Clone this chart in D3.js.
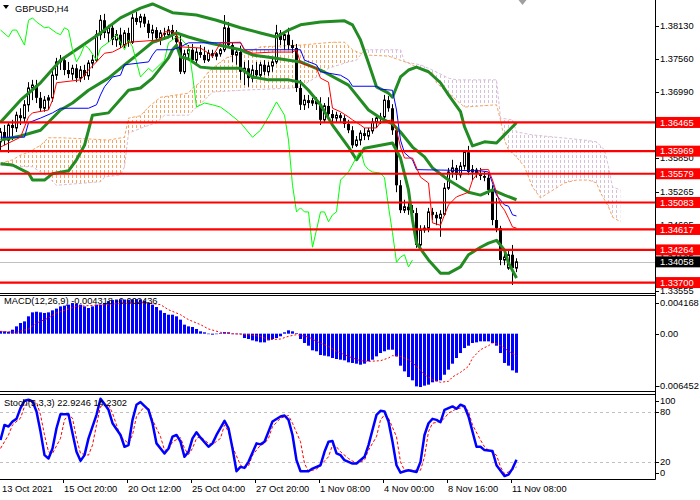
<!DOCTYPE html>
<html>
<head>
<meta charset="utf-8">
<script src="https://cdn.jsdelivr.net/npm/d3@7"></script>
<style>
  body { margin: 0; background: #fff; }
  svg { display: block; font-family: "Liberation Sans", Arial, sans-serif; }
</style>
</head>
<body>
<svg id="chart" width="700" height="500"></svg>
<script>
// GBPUSD H4 - bougies [open, high, low, close]
const candles = [
  // 0
  [1.3613,1.3637,1.3599,1.3630],[1.3630,1.3642,1.3607,1.3616],[1.3616,1.3647,1.3594,1.3642],[1.3642,1.3651,1.3616,1.3637],[1.3637,1.3665,1.3630,1.3659],
  [1.3659,1.3671,1.3642,1.3654],[1.3654,1.3685,1.3647,1.3677],[1.3677,1.3716,1.3665,1.3706],[1.3706,1.3720,1.3685,1.3711],[1.3711,1.3720,1.3680,1.3689],
  // 10
  [1.3689,1.3699,1.3665,1.3671],[1.3671,1.3692,1.3665,1.3685],[1.3685,1.3694,1.3668,1.3689],[1.3689,1.3737,1.3682,1.3728],[1.3728,1.3758,1.3720,1.3751],
  [1.3751,1.3763,1.3737,1.3754],[1.3754,1.3758,1.3728,1.3737],[1.3737,1.3751,1.3723,1.3730],[1.3730,1.3746,1.3720,1.3740],[1.3740,1.3747,1.3716,1.3723],
  // 20
  [1.3723,1.3744,1.3716,1.3737],[1.3737,1.3746,1.3720,1.3727],[1.3727,1.3754,1.3720,1.3749],[1.3749,1.3763,1.3740,1.3754],[1.3754,1.3806,1.3751,1.3798],
  [1.3798,1.3832,1.3789,1.3823],[1.3823,1.3834,1.3792,1.3801],[1.3801,1.3815,1.3785,1.3810],[1.3810,1.3817,1.3780,1.3789],[1.3789,1.3806,1.3777,1.3798],
  // 30
  [1.3798,1.3810,1.3775,1.3780],[1.3780,1.3806,1.3775,1.3801],[1.3801,1.3810,1.3777,1.3785],[1.3785,1.3834,1.3782,1.3827],[1.3827,1.3837,1.3815,1.3820],
  [1.3820,1.3834,1.3810,1.3829],[1.3829,1.3834,1.3811,1.3817],[1.3817,1.3823,1.3792,1.3801],[1.3801,1.3815,1.3789,1.3806],[1.3806,1.3811,1.3785,1.3792],
  // 40
  [1.3792,1.3806,1.3780,1.3801],[1.3801,1.3810,1.3789,1.3798],[1.3798,1.3813,1.3792,1.3806],[1.3806,1.3815,1.3789,1.3796],[1.3796,1.3806,1.3780,1.3785],
  [1.3785,1.3796,1.3730,1.3734],[1.3734,1.3772,1.3730,1.3765],[1.3765,1.3780,1.3754,1.3772],[1.3772,1.3782,1.3749,1.3754],[1.3754,1.3775,1.3749,1.3768],
  // 50
  [1.3768,1.3780,1.3758,1.3763],[1.3763,1.3777,1.3749,1.3754],[1.3754,1.3772,1.3751,1.3766],[1.3766,1.3772,1.3758,1.3761],[1.3761,1.3768,1.3754,1.3765],
  [1.3765,1.3775,1.3760,1.3772],[1.3772,1.3832,1.3768,1.3810],[1.3810,1.3820,1.3775,1.3780],[1.3780,1.3785,1.3751,1.3763],[1.3763,1.3775,1.3746,1.3768],
  // 60
  [1.3768,1.3779,1.3720,1.3734],[1.3734,1.3751,1.3711,1.3740],[1.3740,1.3754,1.3708,1.3723],[1.3723,1.3746,1.3716,1.3737],[1.3737,1.3751,1.3723,1.3728],
  [1.3728,1.3751,1.3725,1.3746],[1.3746,1.3754,1.3728,1.3734],[1.3734,1.3751,1.3727,1.3744],[1.3744,1.3758,1.3734,1.3751],[1.3751,1.3815,1.3747,1.3801],
  // 70
  [1.3801,1.3806,1.3780,1.3789],[1.3789,1.3803,1.3772,1.3798],[1.3798,1.3810,1.3772,1.3780],[1.3780,1.3789,1.3766,1.3775],[1.3775,1.3782,1.3699,1.3706],
  [1.3706,1.3720,1.3668,1.3677],[1.3677,1.3694,1.3668,1.3685],[1.3685,1.3694,1.3671,1.3680],[1.3680,1.3689,1.3675,1.3684],[1.3684,1.3690,1.3668,1.3678],
  // 80
  [1.3678,1.3690,1.3642,1.3651],[1.3651,1.3680,1.3647,1.3675],[1.3675,1.3690,1.3654,1.3661],[1.3661,1.3668,1.3647,1.3654],[1.3654,1.3665,1.3647,1.3659],
  [1.3659,1.3663,1.3647,1.3654],[1.3654,1.3659,1.3637,1.3644],[1.3644,1.3651,1.3628,1.3633],[1.3633,1.3640,1.3602,1.3607],[1.3607,1.3623,1.3604,1.3616],
  // 90
  [1.3616,1.3633,1.3607,1.3628],[1.3628,1.3637,1.3616,1.3623],[1.3623,1.3637,1.3616,1.3632],[1.3632,1.3654,1.3627,1.3647],[1.3647,1.3659,1.3637,1.3654],
  [1.3654,1.3663,1.3644,1.3656],[1.3656,1.3694,1.3651,1.3685],[1.3685,1.3692,1.3665,1.3671],[1.3671,1.3678,1.3625,1.3633],[1.3633,1.3639,1.3526,1.3538],
  // 100
  [1.3538,1.3547,1.3490,1.3495],[1.3495,1.3513,1.3490,1.3501],[1.3501,1.3509,1.3487,1.3495],[1.3495,1.3504,1.3481,1.3490],[1.3490,1.3499,1.3430,1.3435],
  [1.3435,1.3469,1.3430,1.3461],[1.3461,1.3469,1.3456,1.3464],[1.3464,1.3499,1.3457,1.3492],[1.3492,1.3499,1.3478,1.3487],[1.3487,1.3492,1.3469,1.3481],
  // 110
  [1.3481,1.3495,1.3449,1.3488],[1.3488,1.3542,1.3485,1.3533],[1.3533,1.3568,1.3530,1.3561],[1.3561,1.3582,1.3551,1.3568],[1.3568,1.3573,1.3547,1.3556],
  [1.3556,1.3578,1.3551,1.3571],[1.3571,1.3599,1.3565,1.3595],[1.3595,1.3606,1.3556,1.3561],[1.3561,1.3573,1.3547,1.3565],[1.3565,1.3568,1.3551,1.3559],
  // 120
  [1.3559,1.3568,1.3547,1.3554],[1.3554,1.3561,1.3545,1.3551],[1.3551,1.3558,1.3521,1.3530],[1.3530,1.3538,1.3469,1.3478],[1.3478,1.3516,1.3457,1.3464],
  [1.3464,1.3468,1.3400,1.3409],[1.3409,1.3421,1.3400,1.3414],[1.3395,1.3426,1.3392,1.3418],[1.3418,1.3435,1.3366,1.3395],[1.3395,1.3412,1.3388,1.34058]
];

// Bandes de Bollinger [barre, prix]
const bbUpper = [[0,1.3647],[5,1.3685],[10,1.3715],[15,1.3754],[20,1.3777],[25,1.3801],[30,1.3827],[35,1.3844],[38,1.3851],[43,1.3836],[49,1.3832],[54,1.3823],[60,1.3810],[65,1.3801],[69,1.3794],[72,1.3806],[75,1.3815],[80,1.3820],[86,1.3822],[88,1.3815],[90,1.3789],[92,1.3749],[94,1.3708],[97,1.3697],[98,1.3690],[100,1.3725],[102,1.3737],[104,1.3742],[107,1.3734],[110,1.3715],[112,1.3694],[115,1.3665],[116,1.3639],[118,1.3606],[121,1.3613],[124,1.3611],[126,1.3625],[129,1.3646]];
const bbMiddle = [[0,1.3616],[5,1.3623],[10,1.3633],[15,1.3668],[18,1.3680],[22,1.3702],[27,1.3723],[31,1.3746],[35,1.3768],[38,1.3785],[42,1.3794],[44,1.3801],[47,1.3794],[52,1.3784],[60,1.3772],[63,1.3763],[68,1.3758],[75,1.3751],[80,1.3737],[87,1.3711],[92,1.3668],[95,1.3654],[98,1.3644],[100,1.3630],[103,1.3604],[106,1.3587],[108,1.3568],[112,1.3547],[117,1.3526],[120,1.3521],[123,1.3530],[126,1.3521],[129,1.3513]];
const bbLower = [[0,1.3575],[3,1.3573],[7,1.3559],[8,1.3547],[11,1.3547],[13,1.3558],[17,1.3563],[19,1.3582],[21,1.3607],[23,1.3659],[27,1.3663],[32,1.3702],[35,1.3706],[38,1.3723],[42,1.3758],[43,1.3772],[44,1.3780],[45,1.3760],[47,1.3756],[50,1.3742],[53,1.3740],[60,1.3740],[63,1.3725],[67,1.3720],[72,1.3720],[75,1.3716],[77,1.3702],[80,1.3677],[83,1.3642],[87,1.3604],[89,1.3582],[91,1.3602],[95,1.3607],[98,1.3611],[100,1.3585],[102,1.3530],[103,1.3478],[104,1.3438],[107,1.3409],[110,1.3386],[112,1.3386],[115,1.3397],[117,1.3418],[120,1.3431],[122,1.3438],[124,1.3443],[126,1.3426],[127,1.3404],[129,1.3378]];

// Ichimoku [barre, prix]
const tenkan = [[0,1.3604],[5,1.3621],[7,1.3656],[8,1.3663],[12,1.3668],[13,1.3685],[14,1.3715],[20,1.3720],[22,1.3737],[24,1.3751],[26,1.3766],[28,1.3768],[30,1.3775],[32,1.3785],[40,1.3789],[41,1.3803],[43,1.3803],[44,1.3798],[45,1.3777],[50,1.3775],[52,1.3766],[53,1.3760],[55,1.3784],[60,1.3785],[61,1.3772],[63,1.3766],[68,1.3768],[73,1.3768],[74,1.3772],[75,1.3749],[79,1.3740],[80,1.3723],[82,1.3716],[83,1.3671],[85,1.3665],[87,1.3656],[88,1.3651],[90,1.3642],[91,1.3637],[94,1.3637],[95,1.3647],[98,1.3651],[99,1.3633],[100,1.3604],[101,1.3585],[103,1.3585],[105,1.3552],[107,1.3542],[108,1.3473],[110,1.3469],[111,1.3487],[112,1.3504],[114,1.3518],[117,1.3526],[118,1.3547],[120,1.3565],[122,1.3565],[123,1.3547],[124,1.3526],[125,1.3504],[126,1.3495],[127,1.3481],[128,1.3466],[129,1.3464]];
const kijun = [[0,1.3621],[6,1.3621],[7,1.3646],[10,1.3654],[13,1.3663],[15,1.3671],[22,1.3671],[24,1.3677],[25,1.3694],[26,1.3708],[28,1.3725],[30,1.3728],[31,1.3746],[37,1.3751],[38,1.3763],[39,1.3772],[43,1.3772],[45,1.3777],[47,1.3784],[60,1.3784],[61,1.3772],[75,1.3772],[76,1.3754],[79,1.3746],[80,1.3734],[85,1.3728],[87,1.3720],[88,1.3709],[94,1.3709],[95,1.3704],[98,1.3702],[99,1.3668],[100,1.3616],[101,1.3594],[103,1.3582],[104,1.3565],[120,1.3563],[122,1.3561],[123,1.3542],[124,1.3521],[126,1.3504],[127,1.3502],[128,1.3487],[129,1.3485]];
const chikou = [[0,1.3806],[2,1.3794],[3,1.3806],[4,1.3806],[6,1.3780],[7,1.3823],[8,1.3827],[9,1.3820],[11,1.3810],[12,1.3811],[14,1.3801],[15,1.3798],[16,1.3810],[17,1.3806],[18,1.3772],[19,1.3751],[20,1.3763],[21,1.3780],[22,1.3775],[24,1.3754],[25,1.3775],[27,1.3785],[29,1.3798],[31,1.3772],[32,1.3789],[33,1.3777],[35,1.3725],[37,1.3740],[38,1.3734],[41,1.3754],[42,1.3784],[44,1.3794],[45,1.3792],[47,1.3777],[48,1.3728],[49,1.3673],[51,1.3680],[53,1.3677],[55,1.3673],[57,1.3663],[60,1.3646],[63,1.3621],[65,1.3633],[67,1.3656],[69,1.3682],[71,1.3659],[72,1.3616],[73,1.3538],[74,1.3492],[75,1.3499],[76,1.3492],[77,1.3492],[78,1.3431],[79,1.3461],[80,1.3492],[81,1.3492],[82,1.3475],[83,1.3487],[84,1.3492],[85,1.3547],[87,1.3561],[90,1.3599],[91,1.3573],[92,1.3565],[93,1.3561],[95,1.3559],[96,1.3551],[97,1.3501],[98,1.3456],[99,1.3405],[100,1.3414],[101,1.3418],[102,1.3397],[103,1.3409]];
const spanA = [[0,1.3576],[3,1.3582],[5,1.3590],[7,1.3595],[10,1.3607],[12,1.3620],[15,1.3620],[22,1.3618],[27,1.3616],[31,1.3621],[32,1.3654],[35,1.3658],[37,1.3673],[40,1.3690],[47,1.3697],[48,1.3706],[50,1.3716],[52,1.3734],[55,1.3751],[57,1.3760],[60,1.3763],[65,1.3777],[75,1.3780],[83,1.3785],[86,1.3785],[88,1.3772],[91,1.3763],[97,1.3761],[102,1.3749],[104,1.3742],[108,1.3732],[109,1.3715],[111,1.3702],[112,1.3697],[114,1.3685],[116,1.3673],[124,1.3677],[125,1.3651],[126,1.3616],[127,1.3599],[129,1.3587],[131,1.3570],[133,1.3535],[135,1.3516],[137,1.3525],[141,1.3542],[144,1.3547],[147,1.3547],[149,1.3542],[150,1.3525],[152,1.3501],[153,1.3483],[155,1.3475]];
const spanB = [[0,1.3573],[4,1.3570],[8,1.3570],[12,1.3552],[14,1.3538],[25,1.3544],[26,1.3552],[30,1.3556],[31,1.3570],[32,1.3628],[36,1.3639],[39,1.3646],[41,1.3659],[47,1.3659],[49,1.3673],[51,1.3685],[53,1.3699],[60,1.3702],[73,1.3706],[75,1.3708],[79,1.3725],[82,1.3740],[87,1.3751],[89,1.3754],[91,1.3772],[100,1.3772],[101,1.3751],[105,1.3746],[108,1.3737],[112,1.3723],[114,1.3720],[124,1.3720],[125,1.3654],[128,1.3651],[129,1.3630],[133,1.3625],[146,1.3616],[149,1.3613],[151,1.3599],[152,1.3570],[153,1.3535],[155,1.3530]];

// Niveaux horizontaux et axe des prix
const levels = [1.36465, 1.35969, 1.35579, 1.35083, 1.34617, 1.34264, 1.33700];
const lastPrice = 1.34058;
const priceTicks = [1.38130, 1.37560, 1.36990, 1.36420, 1.35850, 1.35265, 1.34695, 1.34125, 1.33555];

// MACD (12,26,9)
const macdMain = [
  0.00029,0.00026,0.00022,0.00044,0.00081,0.00118,0.00136,0.00192,0.00236,0.00243,
  0.00236,0.00229,0.00236,0.00258,0.00277,0.00302,0.00310,0.00321,0.00339,0.00332,
  0.00321,0.00302,0.00284,0.00302,0.00321,0.00321,0.00340,0.00360,0.00372,0.00378,
  0.00380,0.00378,0.00375,0.00380,0.00382,0.00378,0.00365,0.00345,0.00321,0.00295,
  0.00258,0.00229,0.00210,0.00210,0.00192,0.00155,0.00100,0.00081,0.00074,0.00052,
  0.00026,0.00015,-0.00004,-0.00011,0.00000,0.00007,0.00018,0.00015,0.00000,-0.00002,
  -0.00004,-0.00048,-0.00059,-0.00074,-0.00085,-0.00096,-0.00096,-0.00074,-0.00059,-0.00048,
  -0.00029,0.00015,0.00037,0.00026,0.00007,-0.00059,-0.00103,-0.00133,-0.00184,-0.00195,
  -0.00236,-0.00243,-0.00251,-0.00269,-0.00280,-0.00288,-0.00295,-0.00317,-0.00324,-0.00332,
  -0.00343,-0.00332,-0.00306,-0.00288,-0.00251,-0.00214,-0.00195,-0.00177,-0.00177,-0.00251,
  -0.00354,-0.00417,-0.00479,-0.00516,-0.00583,-0.00590,-0.00575,-0.00564,-0.00538,-0.00527,
  -0.00516,-0.00454,-0.00398,-0.00332,-0.00269,-0.00214,-0.00159,-0.00133,-0.00103,-0.00096,
  -0.00085,-0.00085,-0.00085,-0.00103,-0.00133,-0.00214,-0.00324,-0.00354,-0.00406,-0.004318
];
const macdSignal = [[0,0.00026],[4,0.00015],[7,0.00052],[9,0.00118],[12,0.00173],[14,0.00229],[17,0.00273],[19,0.00302],[22,0.00310],[26,0.00321],[29,0.00332],[33,0.00339],[37,0.00339],[40,0.00321],[42,0.00265],[45,0.00210],[47,0.00155],[50,0.00100],[52,0.00052],[55,0.00015],[58,0.0],[62,-0.00011],[65,-0.00029],[67,-0.00066],[70,-0.00059],[72,-0.00029],[74,-0.00011],[77,-0.00037],[79,-0.00085],[82,-0.00140],[84,-0.00195],[87,-0.00251],[88,-0.00269],[90,-0.00299],[92,-0.00306],[95,-0.00299],[97,-0.00269],[98,-0.00243],[100,-0.00251],[102,-0.00288],[104,-0.00361],[106,-0.00454],[108,-0.00509],[110,-0.00538],[112,-0.00527],[113,-0.00479],[115,-0.00428],[117,-0.00361],[118,-0.00269],[120,-0.00177],[122,-0.00133],[123,-0.00103],[124,-0.00111],[126,-0.00159],[127,-0.00195],[129,-0.002436]];
const macdRange = [-0.006452, 0.004168];

// Stochastique (5,3,3)
const stochMain = [[0,46.4],[1,64.4],[2,62.4],[3,68.4],[4,71.6],[5,84.4],[6,93.2],[7,94.4],[8,92.4],[9,80.4],[10,56.4],[11,28.4],[12,24.4],[13,36.4],[14,60.4],[15,77.2],[17,77.2],[18,54.4],[19,32.4],[20,21.6],[21,28.4],[22,48.4],[24,76.4],[25,95.6],[26,89.2],[27,82.4],[28,66.4],[30,52.4],[31,38.4],[32,40.4],[33,70.4],[34,88.4],[35,91.6],[37,82.4],[38,66.4],[39,42.4],[41,30.4],[42,36.4],[43,50.4],[44,52.4],[45,44.4],[46,26.4],[47,32.4],[48,48.4],[49,55.6],[50,49.2],[52,38.4],[53,42.4],[54,52.4],[56,69.2],[57,60.4],[58,36.4],[59,9.2],[60,14.4],[61,13.2],[62,20.4],[64,42.4],[65,41.2],[66,44.4],[67,56.4],[68,68.4],[70,74.4],[71,75.6],[72,70.4],[73,52.4],[74,22.4],[75,9.2],[77,9.2],[78,12.4],[80,16.4],[81,32.4],[82,44.4],[83,45.2],[84,30.4],[85,28.4],[86,22.4],[87,20.4],[88,18.4],[89,18.4],[91,26.4],[92,40.4],[93,58.4],[94,76.4],[95,81.2],[96,80.4],[97,68.4],[98,44.4],[99,16.4],[100,7.6],[101,9.2],[102,10.4],[104,8.4],[105,20.4],[106,52.4],[107,66.4],[108,71.6],[109,70.4],[110,67.6],[111,82.4],[113,86.4],[114,83.6],[115,88.4],[116,86.4],[117,74.4],[118,56.4],[119,38.4],[120,38.4],[121,34.4],[123,33.2],[124,16.4],[126,3.6],[127,5.2],[128,12.4],[129,22.9246]];
const stochSignal = [[0,36.4],[2,52.4],[3,64.4],[5,72.4],[6,86.4],[7,92.4],[9,91.6],[10,76.4],[11,52.4],[12,32.4],[13,30.4],[15,48.4],[16,70.4],[17,76.4],[18,72.4],[19,48.4],[20,30.4],[22,28.4],[23,40.4],[24,64.4],[25,86.4],[27,88.4],[28,78.4],[29,64.4],[30,50.4],[32,42.4],[33,52.4],[34,74.4],[36,86.4],[37,84.4],[38,70.4],[40,50.4],[41,34.4],[42,34.4],[43,44.4],[45,49.2],[46,36.4],[47,29.2],[48,36.4],[49,48.4],[50,50.4],[52,42.4],[53,41.2],[55,48.4],[56,64.4],[57,56.4],[58,38.4],[60,16.4],[61,13.2],[62,15.6],[63,28.4],[65,40.4],[66,42.4],[67,48.4],[68,62.4],[70,72.4],[72,75.6],[73,66.4],[75,44.4],[76,18.4],[77,9.2],[79,11.6],[80,16.4],[82,26.4],[83,40.4],[84,38.4],[85,32.4],[87,24.4],[89,18.4],[91,22.4],[92,34.4],[94,50.4],[95,70.4],[96,76.4],[97,72.4],[99,50.4],[100,20.4],[101,10.4],[103,10.4],[105,10.4],[106,26.4],[107,56.4],[108,66.4],[110,68.4],[111,72.4],[112,78.4],[114,83.6],[115,84.4],[116,86.4],[117,80.4],[118,64.4],[120,46.4],[121,38.4],[122,34.4],[124,28.4],[125,14.4],[126,6.4],[127,8.4],[129,14.2302]];
const stochLevels = [80, 20];
const stochTicks = [100, 80, 20, 0];

// Axe du temps [barre, libellé]
const timeLabels = [[0,"13 Oct 2021"],[16,"15 Oct 20:00"],[32,"20 Oct 12:00"],[48,"25 Oct 04:00"],[64,"27 Oct 20:00"],[80,"1 Nov 08:00"],[96,"4 Nov 00:00"],[112,"8 Nov 16:00"],[128,"11 Nov 08:00"]];

// Configuration
const plotW = 655;
const main = { top: 0, bottom: 293 };
const macdP = { top: 296, bottom: 392 };
const stochP = { top: 395, bottom: 479 };
const fontSize = "9.3px";

const svg = d3.select("#chart");
const defs = svg.append("defs");

const x = d3.scaleLinear().domain([0, plotW / 4]).range([0, plotW]);
const cx = i => x(i) + 0.5;
const yP = d3.scaleLinear().domain([1.33520, 1.38579]).range([main.bottom, main.top]);
const yM = d3.scaleLinear().domain(macdRange).range([macdP.bottom, macdP.top]);
const yS = d3.scaleLinear().domain([0, 100]).range([stochP.bottom, stochP.top]);

const priceLine = d3.line().x(d => cx(d[0])).y(d => yP(d[1]));

// Clips
defs.append("clipPath").attr("id", "mainClip")
    .append("rect").attr("x", 0).attr("y", main.top).attr("width", plotW).attr("height", main.bottom - main.top);
defs.append("clipPath").attr("id", "macdClip")
    .append("rect").attr("x", 0).attr("y", macdP.top).attr("width", plotW).attr("height", macdP.bottom - macdP.top);
defs.append("clipPath").attr("id", "stochClip")
    .append("rect").attr("x", 0).attr("y", stochP.top).attr("width", plotW).attr("height", stochP.bottom - stochP.top);

const below = d3.area().x(d => cx(d[0])).y0(main.bottom).y1(d => yP(d[1]));
const above = d3.area().x(d => cx(d[0])).y0(main.top).y1(d => yP(d[1]));
defs.append("clipPath").attr("id", "belowA").append("path").attr("d", below(spanA));
defs.append("clipPath").attr("id", "aboveA").append("path").attr("d", above(spanA));
defs.append("clipPath").attr("id", "belowB").append("path").attr("d", below(spanB));
defs.append("clipPath").attr("id", "aboveB").append("path").attr("d", above(spanB));

// Hachures du nuage
function hatch(id, color) {
    const p = defs.append("pattern").attr("id", id)
        .attr("patternUnits", "userSpaceOnUse").attr("width", 4).attr("height", 5);
    p.append("rect").attr("x", 0).attr("y", 0).attr("width", 1).attr("height", 3).attr("fill", color);
}
hatch("hatchA", "#F4A460");
hatch("hatchB", "#D8BFD8");

const gMain = svg.append("g").attr("clip-path", "url(#mainClip)");

// Nuage Ichimoku
gMain.append("g").attr("clip-path", "url(#belowA)")
    .append("rect").attr("clip-path", "url(#aboveB)")
    .attr("x", 0).attr("y", 0).attr("width", plotW).attr("height", main.bottom)
    .attr("fill", "url(#hatchA)");
gMain.append("g").attr("clip-path", "url(#belowB)")
    .append("rect").attr("clip-path", "url(#aboveA)")
    .attr("x", 0).attr("y", 0).attr("width", plotW).attr("height", main.bottom)
    .attr("fill", "url(#hatchB)");
gMain.append("path").attr("d", priceLine(spanB))
    .attr("fill", "none").attr("stroke", "#D8BFD8").attr("stroke-width", 1).attr("stroke-dasharray", "3,2");
gMain.append("path").attr("d", priceLine(spanA))
    .attr("fill", "none").attr("stroke", "#F4A460").attr("stroke-width", 1).attr("stroke-dasharray", "3,2");

// Ligne du dernier prix
gMain.append("line")
    .attr("x1", 0).attr("x2", plotW)
    .attr("y1", Math.round(yP(lastPrice)) + 0.5).attr("y2", Math.round(yP(lastPrice)) + 0.5)
    .attr("stroke", "#C0C0C0").attr("stroke-width", 1);

// Bougies
const gC = gMain.append("g");
gC.selectAll(".wick")
    .data(candles)
    .enter()
    .append("line")
    .attr("class", "wick")
    .attr("x1", (d, i) => cx(i)).attr("x2", (d, i) => cx(i))
    .attr("y1", d => yP(d[1])).attr("y2", d => yP(d[2]))
    .attr("stroke", "#000").attr("stroke-width", 1);
gC.selectAll(".body")
    .data(candles)
    .enter()
    .append("rect")
    .attr("class", "body")
    .attr("x", (d, i) => d[3] >= d[0] ? x(i) - 0.5 : x(i) - 1)
    .attr("width", d => d[3] >= d[0] ? 2 : 3)
    .attr("y", d => yP(Math.max(d[0], d[3])))
    .attr("height", d => Math.max(1, Math.abs(yP(d[0]) - yP(d[3]))))
    .attr("fill", d => d[3] >= d[0] ? "#fff" : "#000")
    .attr("stroke", d => d[3] >= d[0] ? "#000" : "none")
    .attr("stroke-width", 1);

// Bollinger
[bbUpper, bbMiddle, bbLower].forEach(band => {
    gMain.append("path").attr("d", priceLine(band))
        .attr("fill", "none").attr("stroke", "#228B22").attr("stroke-width", 3)
        .attr("stroke-linejoin", "round");
});

// Lignes Ichimoku
gMain.append("path").attr("d", priceLine(chikou)).attr("fill", "none").attr("stroke", "#00FF00").attr("stroke-width", 1);
gMain.append("path").attr("d", priceLine(kijun)).attr("fill", "none").attr("stroke", "#0000FF").attr("stroke-width", 1);
gMain.append("path").attr("d", priceLine(tenkan)).attr("fill", "none").attr("stroke", "#FF0000").attr("stroke-width", 1);

// Niveaux
gMain.selectAll(".level")
    .data(levels)
    .enter()
    .append("line")
    .attr("class", "level")
    .attr("x1", 0).attr("x2", plotW)
    .attr("y1", d => yP(d)).attr("y2", d => yP(d))
    .attr("stroke", "#FF0000").attr("stroke-width", 2.2);

// MACD
const gM = svg.append("g").attr("clip-path", "url(#macdClip)");
gM.selectAll(".hist")
    .data(macdMain)
    .enter()
    .append("rect")
    .attr("class", "hist")
    .attr("x", (d, i) => x(i) - 1)
    .attr("width", 3)
    .attr("y", d => Math.min(yM(0), yM(d)))
    .attr("height", d => Math.max(0.5, Math.abs(yM(d) - yM(0))))
    .attr("fill", "#0000FF");
gM.append("path")
    .attr("d", d3.line().x(d => cx(d[0])).y(d => yM(d[1]))(macdSignal))
    .attr("fill", "none").attr("stroke", "#FF0000").attr("stroke-width", 1).attr("stroke-dasharray", "2,2");

// Stochastique
const gS = svg.append("g").attr("clip-path", "url(#stochClip)");
gS.selectAll(".slevel")
    .data(stochLevels)
    .enter()
    .append("line")
    .attr("x1", 0).attr("x2", plotW)
    .attr("y1", d => Math.round(yS(d)) + 0.5).attr("y2", d => Math.round(yS(d)) + 0.5)
    .attr("stroke", "#C0C0C0").attr("stroke-width", 1).attr("stroke-dasharray", "3,3");
const stochLine = d3.line().x(d => cx(d[0])).y(d => yS(d[1]));
gS.append("path").attr("d", stochLine(stochSignal))
    .attr("fill", "none").attr("stroke", "#FF0000").attr("stroke-width", 1).attr("stroke-dasharray", "3,2");
gS.append("path").attr("d", stochLine(stochMain))
    .attr("fill", "none").attr("stroke", "#0000FF").attr("stroke-width", 2.5).attr("stroke-linejoin", "round");

// Cadres des panneaux
const frame = svg.append("g").attr("stroke", "#000").attr("stroke-width", 1).attr("fill", "none");
frame.append("line").attr("x1", plotW + 0.5).attr("x2", plotW + 0.5).attr("y1", 0).attr("y2", stochP.bottom + 0.5);
[main.bottom + 0.5, macdP.top - 0.5, macdP.bottom - 0.5, stochP.top - 0.5, stochP.bottom + 0.5].forEach(yy => {
    frame.append("line").attr("x1", 0).attr("x2", plotW + 0.5).attr("y1", yy).attr("y2", yy);
});

// Axe des prix
const axisG = svg.append("g").attr("font-size", fontSize).attr("fill", "#000");
function rightTick(yy, label, dx) {
    axisG.append("line").attr("x1", plotW).attr("x2", plotW + 4)
        .attr("y1", Math.round(yy) + 0.5).attr("y2", Math.round(yy) + 0.5).attr("stroke", "#000");
    axisG.append("text").attr("x", plotW + (dx === undefined ? 5 : dx)).attr("y", yy).attr("dy", "0.35em").text(label);
}
priceTicks.forEach(p => rightTick(yP(p), p.toFixed(5)));
rightTick(yM(macdRange[1]) + 7, macdRange[1].toFixed(6));
rightTick(yM(0), "0.00");
rightTick(yM(macdRange[0]) - 6, macdRange[0].toFixed(6), 2);
stochTicks.forEach(s => {
    const yy = s === 100 ? yS(s) + 6 : s === 0 ? yS(s) - 6 : yS(s);
    rightTick(yy, String(s));
});

// Étiquettes des niveaux
function priceBox(p, color) {
    const yy = yP(p);
    axisG.append("rect").attr("x", plotW + 1).attr("y", yy - 5.5).attr("width", 44).attr("height", 11).attr("fill", color);
    axisG.append("text").attr("x", plotW + 5).attr("y", yy).attr("dy", "0.35em").attr("fill", "#fff").text(p.toFixed(5));
}
levels.forEach(p => priceBox(p, "#FF0000"));
priceBox(lastPrice, "#000");

// Axe du temps
const timeG = svg.append("g").attr("font-size", fontSize).attr("fill", "#000");
timeLabels.forEach(([i, label]) => {
    if (i > 0) {
        timeG.append("line").attr("x1", x(i) - 0.5).attr("x2", x(i) - 0.5)
            .attr("y1", stochP.bottom).attr("y2", stochP.bottom + 4).attr("stroke", "#000");
    }
    timeG.append("text").attr("x", i > 0 ? x(i) : 2).attr("y", 492).text(label);
});

// Titres
const titles = svg.append("g").attr("font-size", fontSize).attr("fill", "#000");
titles.append("path").attr("d", "M3,5 L9,5 L6,9 Z").attr("fill", "#000");
titles.append("text").attr("x", 15).attr("y", 12).text("GBPUSD,H4");
titles.append("text").attr("x", 4).attr("y", 304)
    .text("MACD(12,26,9) " + macdMain[macdMain.length - 1].toFixed(6) + " " + macdSignal[macdSignal.length - 1][1].toFixed(6));
titles.append("text").attr("x", 4).attr("y", 406)
    .text("Stoch(5,3,3) " + stochMain[stochMain.length - 1][1].toFixed(4) + " " + stochSignal[stochSignal.length - 1][1].toFixed(4));

// Repère de décalage du graphique
const sx = cx(130.5);
svg.append("path").attr("d", `M${sx - 4},0 L${sx + 4},0 L${sx},5 Z`).attr("fill", "#A0A0A0");
</script>
</body>
</html>
